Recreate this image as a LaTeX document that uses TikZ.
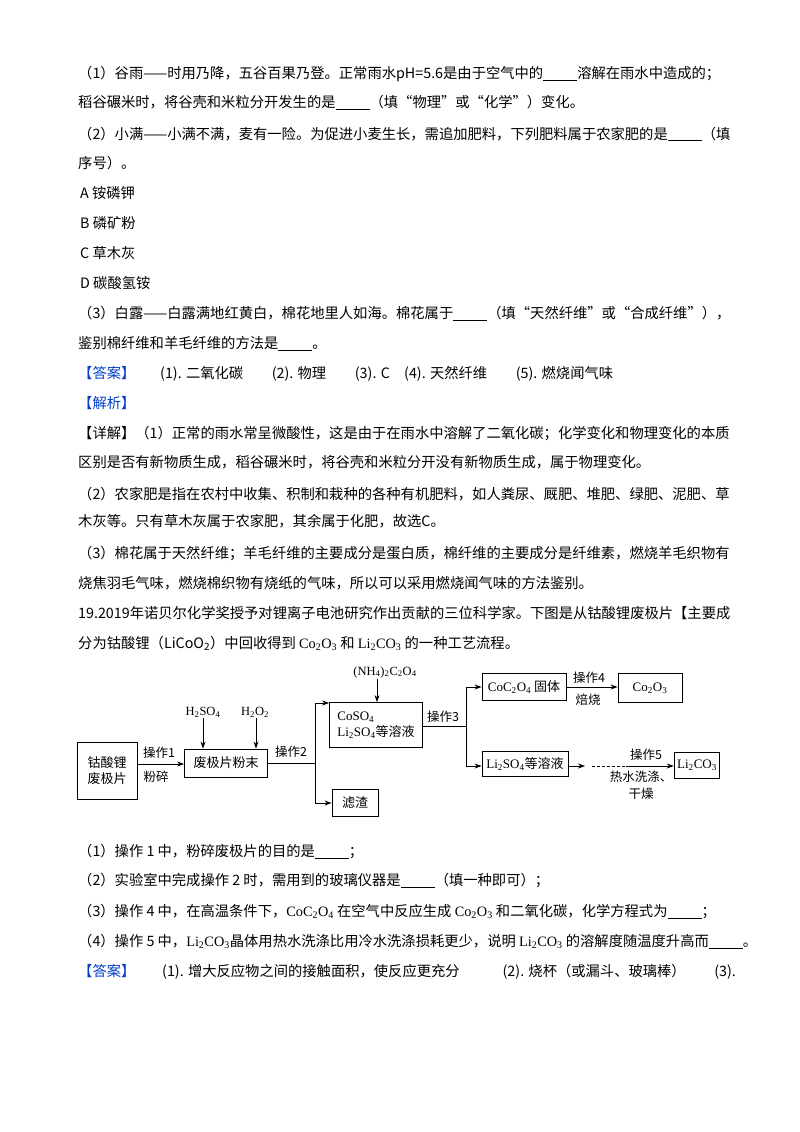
\documentclass[tikz,border=0pt]{standalone}
\usepackage{fontspec}
\setmainfont{Noto Sans CJK SC}
\newfontfamily\ser{Liberation Serif}
\usetikzlibrary{arrows.meta}
\newcommand{\blk}{\rule[-2pt]{34pt}{0.5pt}}
\newcommand{\sbs}[1]{\textsubscript{#1}}
\begin{document}
\begin{tikzpicture}[x=1pt,y=-1pt,
  tl/.style={anchor=base west,inner sep=0pt,font=\fontsize{14.3}{16}\selectfont},
  bx/.style={draw,thick,inner sep=3pt,font=\fontsize{13}{16}\selectfont,align=left},
  lb/.style={inner sep=1pt,font=\fontsize{12.5}{14}\selectfont,align=center},
  ar/.style={thick,-{Stealth[length=7pt,width=5pt]}},
  ans/.style={tl,text=blue!70!cyan!80!black}]
\useasboundingbox (0,0) rectangle (800,1132);
\node[tl] (l1) at (78,78) {（1）谷雨——时用乃降，五谷百果乃登。正常雨水pH=5.6是由于空气中的\blk 溶解在雨水中造成的；};
\node[tl] (l2) at (78,107) {稻谷碾米时，将谷壳和米粒分开发生的是\blk（填“物理”或“化学”）变化。};
\node[tl] (l3) at (78,139) {（2）小满——小满不满，麦有一险。为促进小麦生长，需追加肥料，下列肥料属于农家肥的是\blk（填};
\node[tl] (l4) at (78,168) {序号）。};
\node[tl] (l5) at (80,198) {A 铵磷钾};
\node[tl] (l6) at (80,228) {B 磷矿粉};
\node[tl] (l7) at (80,258) {C 草木灰};
\node[tl] (l8) at (80,288) {D 碳酸氢铵};
\node[tl] (l9) at (78,318) {（3）白露——白露满地红黄白，棉花地里人如海。棉花属于\blk（填“天然纤维”或“合成纤维”），};
\node[tl] (l10) at (78,348) {鉴别棉纤维和羊毛纤维的方法是\blk。};
\node[ans] (a1) at (78,378) {【答案】};
\node[tl] (a2) at (160,378) {(1). 二氧化碳\qquad (2). 物理\qquad (3). C\quad (4). 天然纤维\qquad (5). 燃烧闻气味};
\node[ans] (a3) at (78,408) {【解析】};
\node[tl] (d1) at (78,438) {【详解】（1）正常的雨水常呈微酸性，这是由于在雨水中溶解了二氧化碳；化学变化和物理变化的本质};
\node[tl] (d2) at (78,467) {区别是否有新物质生成，稻谷碾米时，将谷壳和米粒分开没有新物质生成，属于物理变化。};
\node[tl] (d3) at (78,499) {（2）农家肥是指在农村中收集、积制和栽种的各种有机肥料，如人粪尿、厩肥、堆肥、绿肥、泥肥、草};
\node[tl] (d4) at (78,526) {木灰等。只有草木灰属于农家肥，其余属于化肥，故选C。};
\node[tl] (d5) at (78,558) {（3）棉花属于天然纤维；羊毛纤维的主要成分是蛋白质，棉纤维的主要成分是纤维素，燃烧羊毛织物有};
\node[tl] (d6) at (78,588) {烧焦羽毛气味，燃烧棉织物有烧纸的气味，所以可以采用燃烧闻气味的方法鉴别。};
\node[tl] (q1) at (78,618) {19.2019年诺贝尔化学奖授予对锂离子电池研究作出贡献的三位科学家。下图是从钴酸锂废极片【主要成};
\node[tl] (q2) at (78,648) {分为钴酸锂（LiCoO\sbs{2}）中回收得到 {\ser Co\sbs{2}O\sbs{3}} 和 {\ser Li\sbs{2}CO\sbs{3}} 的一种工艺流程。};
% flowchart
\node[bx,minimum width=60pt,minimum height=57pt,align=center] (b1) at (107,771) {钴酸锂\\废极片};
\node[bx,minimum width=83pt,minimum height=28pt] (b2) at (226,763) {废极片粉末};
\node[bx,minimum width=93pt,minimum height=45pt] (b3) at (376,725) {{\ser CoSO\sbs{4}}\\{\ser Li\sbs{2}SO\sbs{4}}等溶液};
\node[bx,minimum width=46pt,minimum height=27pt] (b4) at (355,803) {滤渣};
\node[bx,minimum width=84pt,minimum height=27pt] (b5) at (524,687) {{\ser CoC\sbs{2}O\sbs{4}} 固体};
\node[bx,minimum width=64pt,minimum height=29pt] (b6) at (650,688) {{\ser Co\sbs{2}O\sbs{3}}};
\node[bx,minimum width=86pt,minimum height=25pt] (b7) at (525,764) {{\ser Li\sbs{2}SO\sbs{4}}等溶液};
\node[bx,minimum width=45pt,minimum height=26pt] (b8) at (697,765) {{\ser Li\sbs{2}CO\sbs{3}}};
\draw[ar] (b1.east |- 0,764) -- (b2.west |- 0,764);
\node[lb] (o1) at (159,753) {操作1};
\node[lb] (o1b) at (156,777) {粉碎};
\node[lb] (h1) at (203,712) {\ser H\sbs{2}SO\sbs{4}};
\node[lb] (h2) at (255,712) {\ser H\sbs{2}O\sbs{2}};
\draw[ar] (h1.south -| 203,0) -- (b2.north -| 203,0);
\draw[ar] (h2.south -| 256,0) -- (b2.north -| 256,0);
\coordinate (j2) at (315,763);
\draw[thick] (b2.east |- j2) -- (j2);
\node[lb] (o2) at (291,752) {操作2};
\draw[ar] (315,703) -- (b3.west |- 0,703);
\draw[thick] (315,703) -- (315,803);
\draw[ar] (315,803) -- (b4.west);
\node[lb] (nh) at (385,672) {\ser (NH\sbs{4})\sbs{2}C\sbs{2}O\sbs{4}};
\draw[ar] (nh.south -| 377,0) -- (b3.north -| 377,0);
\coordinate (j3) at (466,726);
\draw[thick] (b3.east |- j3) -- (j3);
\node[lb] (o3) at (443,717) {操作3};
\draw[thick] (466,687) -- (466,766);
\draw[ar] (466,687) -- (b5.west);
\draw[ar] (466,766) -- (b7.west |- 0,766);
\draw[ar] (b5.east) -- (b6.west |- b5.east);
\node[lb] (o4) at (589,678) {操作4};
\node[lb] (o4b) at (588,700) {焙烧};
\draw[ar] (b7.east |- 0,766) -- (585,766);
\draw[thick,dashed,dash pattern=on 3pt off 2pt] (592,766) -- (626,766);
\draw[ar] (626,766) -- (b8.west |- 0,766);
\node[lb] (o5) at (646,755) {操作5};
\node[lb] (o5b) at (641,777) {热水洗涤、};
\node[lb] (o5c) at (641,794) {干燥};
% questions
\node[tl] (s1) at (78,856) {（1）操作 1 中，粉碎废极片的目的是\blk；};
\node[tl] (s2) at (78,885) {（2）实验室中完成操作 2 时，需用到的玻璃仪器是\blk（填一种即可）；};
\node[tl] (s3) at (78,916) {（3）操作 4 中，在高温条件下，{\ser CoC\sbs{2}O\sbs{4}} 在空气中反应生成 {\ser Co\sbs{2}O\sbs{3}} 和二氧化碳，化学方程式为\blk；};
\node[tl] (s4) at (78,946) {（4）操作 5 中，{\ser Li\sbs{2}CO\sbs{3}}晶体用热水洗涤比用冷水洗涤损耗更少，说明 {\ser Li\sbs{2}CO\sbs{3}} 的溶解度随温度升高而\blk。};
\node[ans] (s5) at (78,976) {【答案】};
\node[tl] (s6) at (162,976) {(1). 增大反应物之间的接触面积，使反应更充分\qquad\quad (2). 烧杯（或漏斗、玻璃棒）\qquad (3).};
\end{tikzpicture}
\end{document}
